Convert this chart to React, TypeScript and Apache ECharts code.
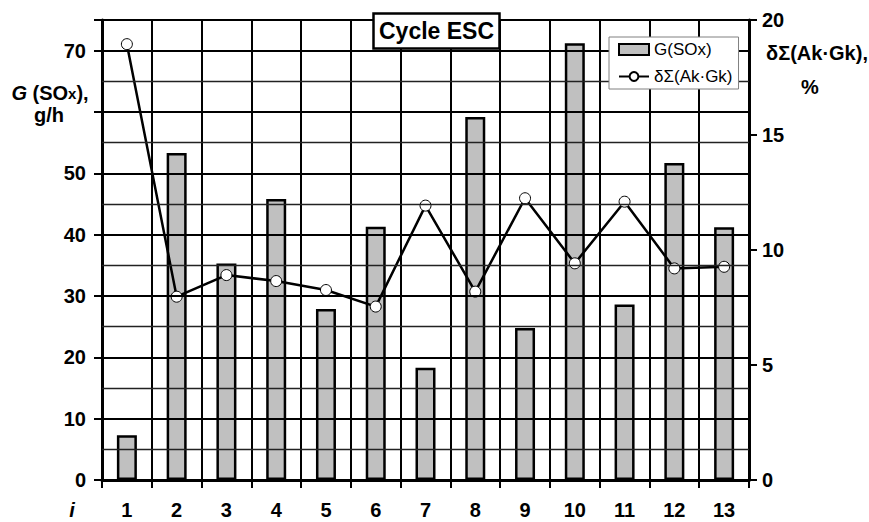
import React, { useEffect, useRef } from "react";
import * as echarts from "echarts";

const categories = ["1", "2", "3", "4", "5", "6", "7", "8", "9", "10", "11", "12", "13"];
const gSOx = [7.3, 53.3, 35.3, 45.8, 27.9, 41.3, 18.3, 59.2, 24.8, 71.2, 28.6, 51.7, 41.2];
const deltaSum = [18.95, 7.97, 8.91, 8.65, 8.26, 7.54, 11.93, 8.19, 12.25, 9.42, 12.1, 9.2, 9.27];
const leftTicks = [0, 10, 20, 30, 40, 50, 70];
const majorGrid = [10, 20, 30, 40, 50, 60, 70];
const minorGrid = [5, 15, 25, 35, 45, 55, 65];

const FONT = "'Liberation Sans', Arial, sans-serif";

export default function App() {
  const ref = useRef<HTMLDivElement>(null);
  useEffect(() => {
    if (!ref.current) return;
    const chart = echarts.init(ref.current, undefined, { renderer: "svg" });
    const gridLines = [
      ...minorGrid.map((v) => ({ yAxis: v, lineStyle: { color: "#222", width: 1.3, type: "solid", opacity: 1 } })),
      ...majorGrid.map((v) => ({ yAxis: v, lineStyle: { color: "#000", width: 2, type: "solid", opacity: 1 } })),
    ];
    const option: any = {
      animation: false,
      backgroundColor: "#fff",
      textStyle: { fontFamily: FONT, color: "#000" },
      title: {
        text: "Cycle ESC",
        left: 373,
        top: 13,
        padding: [5, 6, 5, 6],
        borderColor: "#000",
        borderWidth: 2.5,
        backgroundColor: "#fff",
        textStyle: { fontFamily: FONT, fontSize: 23, fontWeight: "bold", color: "#000", lineHeight: 26 },
        z: 10,
      },
      legend: {
        orient: "vertical",
        left: 609,
        top: 37,
        itemWidth: 30,
        itemHeight: 11,
        itemGap: 10,
        padding: [4, 6, 4, 9],
        borderColor: "#808080",
        borderWidth: 1,
        backgroundColor: "#fff",
        textStyle: { fontFamily: FONT, fontSize: 17, color: "#000", lineHeight: 17 },
        data: [{ name: "G(SOx)", icon: "rect" }, { name: "δΣ(Ak·Gk)" }],
        z: 10,
      },
      grid: {
        left: 102,
        right: 120,
        top: 20,
        bottom: 42,
        show: true,
        borderColor: "#000",
        borderWidth: 1,
      },
      xAxis: {
        type: "category",
        data: categories,
        boundaryGap: true,
        axisLine: { lineStyle: { color: "#000", width: 3 } },
        axisTick: { show: true, length: 8, lineStyle: { color: "#000", width: 2 } },
        axisLabel: { fontFamily: FONT, fontSize: 20, fontWeight: "bold", color: "#000", margin: 20 },
        splitLine: { show: true, interval: 0, lineStyle: { color: "#000", width: 2 } },
      },
      yAxis: [
        {
          type: "value",
          min: 0,
          max: 75,
          interval: 10,
          position: "left",
          axisLine: { show: true, lineStyle: { color: "#000", width: 3 } },
          axisTick: { show: true, length: 8, lineStyle: { color: "#000", width: 2 } },
          axisLabel: {
            fontFamily: FONT,
            fontSize: 20,
            fontWeight: "bold",
            color: "#000",
            margin: 16,
            formatter: (v: number) => (leftTicks.indexOf(v) >= 0 ? String(v) : ""),
          },
          splitLine: { show: true, lineStyle: { color: "#000", width: 2 } },
        },
        {
          type: "value",
          min: 0,
          max: 20,
          interval: 5,
          position: "right",
          axisLine: { show: true, lineStyle: { color: "#000", width: 3 } },
          axisTick: { show: true, length: 8, lineStyle: { color: "#000", width: 2 } },
          axisLabel: { fontFamily: FONT, fontSize: 20, fontWeight: "bold", color: "#000", margin: 13 },
          splitLine: { show: false },
        },
      ],
      series: [
        {
          name: "grid",
          type: "line",
          yAxisIndex: 0,
          data: [],
          silent: true,
          z: 1,
          markLine: {
            silent: true,
            symbol: ["none", "none"],
            label: { show: false },
            emphasis: { disabled: true },
            animation: false,
            lineStyle: { color: "#000", width: 2, type: "solid", opacity: 1 },
            data: gridLines,
          },
        },
        {
          name: "G(SOx)",
          type: "bar",
          yAxisIndex: 0,
          data: gSOx,
          barWidth: 20,
          itemStyle: { color: "#c0c0c0", borderColor: "#000", borderWidth: 2.5 },
          z: 3,
        },
        {
          name: "δΣ(Ak·Gk)",
          type: "line",
          yAxisIndex: 1,
          data: deltaSum,
          symbol: "circle",
          symbolSize: 11,
          lineStyle: { color: "#000", width: 2.5 },
          itemStyle: { color: "#fff", borderColor: "#000", borderWidth: 1 },
          z: 4,
        },
      ],
      graphic: [
        {
          type: "text",
          x: 50,
          y: 93,
          style: {
            text: "{i|G}{b| (SO}{s|x}{b|),}",
            align: "center",
            verticalAlign: "middle",
            rich: {
              i: { fontFamily: FONT, fontSize: 20, fontWeight: "bold", fontStyle: "italic", fill: "#000" },
              b: { fontFamily: FONT, fontSize: 20, fontWeight: "bold", fill: "#000" },
              s: { fontFamily: FONT, fontSize: 15, fontWeight: "bold", fill: "#000" },
            },
          },
        },
        {
          type: "text",
          x: 49,
          y: 115,
          style: { text: "g/h", font: "bold 20px " + FONT, fill: "#000", align: "center", verticalAlign: "middle" },
        },
        {
          type: "text",
          x: 817,
          y: 53,
          style: { text: "δΣ(Ak·Gk),", font: "bold 20px " + FONT, fill: "#000", align: "center", verticalAlign: "middle" },
        },
        {
          type: "text",
          x: 810,
          y: 87,
          style: { text: "%", font: "bold 20px " + FONT, fill: "#000", align: "center", verticalAlign: "middle" },
        },
        {
          type: "text",
          x: 72,
          y: 510,
          style: { text: "i", font: "italic bold 20px " + FONT, fill: "#000", align: "center", verticalAlign: "middle" },
        },
      ],
    };
    chart.setOption(option);
    return () => chart.dispose();
  }, []);
  return (
    <div
      ref={ref}
      style={{ position: "fixed", left: 0, top: 0, width: 869, height: 522, background: "#fff" }}
    />
  );
}
